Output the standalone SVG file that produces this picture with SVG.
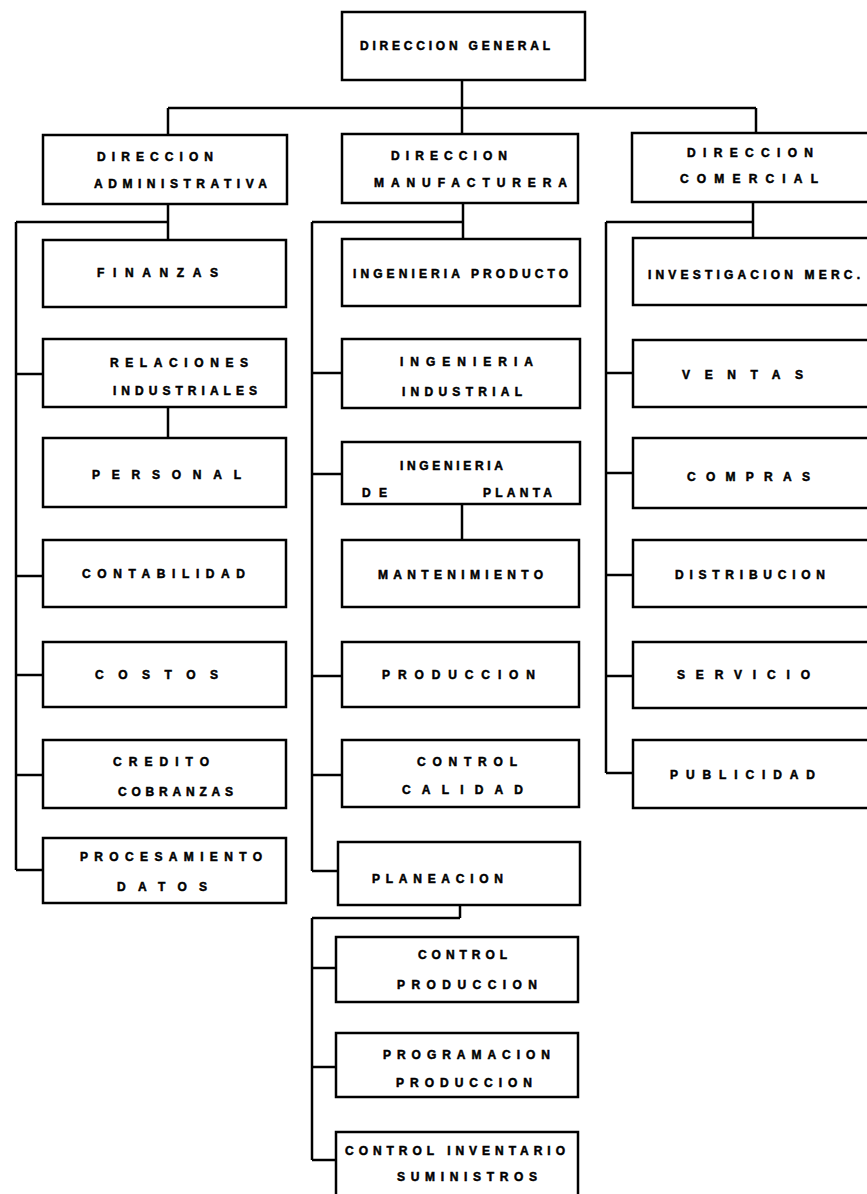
<svg xmlns="http://www.w3.org/2000/svg" width="867" height="1194" viewBox="0 0 867 1194">
<style>
.box{fill:#fff;stroke:#000;stroke-width:2.5}
.ln{fill:none;stroke:#000;stroke-width:2.5}
text{font-family:"Liberation Sans",Arial,sans-serif;font-weight:bold;font-size:12px;fill:#000;stroke:#000;stroke-width:0.5}
</style>
<rect width="867" height="1194" fill="#fff"/>
<g id="connectors">
<path class="ln" d="M462,80 V134 M168,108 H756 M168,108 V135 M756,108 V133"/>
<path class="ln" d="M168,204 V240 M16,222 H168 M16,222 V870 M16,374 H43 M16,576 H43 M16,675 H43 M16,775 H43 M16,870 H43 M168,407 V438"/>
<path class="ln" d="M463,203 V239 M312,222 H463 M312,222 V871 M312,373 H342 M312,474 H342 M312,676 H342 M312,775 H342 M312,871 H338 M462,504 V540"/>
<path class="ln" d="M460,905 V918 M312,918 H460 M312,918 V1160 M312,968 H336 M312,1067 H336 M312,1160 H336"/>
<path class="ln" d="M753,202 V238 M606,222 H753 M606,222 V773 M606,373 H633 M606,473 H633 M606,575 H633 M606,676 H633 M606,773 H633"/>
</g>
<g id="n-general"><rect class="box" x="342" y="12" width="243" height="68"/><text x="360" y="50" textLength="190" lengthAdjust="spacing">DIRECCION GENERAL</text></g>
<g id="n-admin"><rect class="box" x="43" y="135" width="244" height="69"/><text x="97" y="161" textLength="116" lengthAdjust="spacing">DIRECCION</text><text x="94" y="188" textLength="173" lengthAdjust="spacing">ADMINISTRATIVA</text></g>
<g id="n-manuf"><rect class="box" x="342" y="134" width="236" height="69"/><text x="391" y="160" textLength="116" lengthAdjust="spacing">DIRECCION</text><text x="374" y="187" textLength="193" lengthAdjust="spacing">MANUFACTURERA</text></g>
<g id="n-comer"><rect class="box" x="632" y="133" width="240" height="69"/><text x="687" y="157" textLength="126" lengthAdjust="spacing">DIRECCION</text><text x="680" y="183" textLength="138" lengthAdjust="spacing">COMERCIAL</text></g>
<g id="n-finanzas"><rect class="box" x="43" y="240" width="243" height="67"/><text x="97" y="277" textLength="121" lengthAdjust="spacing">FINANZAS</text></g>
<g id="n-relaciones"><rect class="box" x="43" y="339" width="243" height="68"/><text x="110" y="367" textLength="138" lengthAdjust="spacing">RELACIONES</text><text x="113" y="395" textLength="144" lengthAdjust="spacing">INDUSTRIALES</text></g>
<g id="n-personal"><rect class="box" x="43" y="438" width="243" height="69"/><text x="92" y="479" textLength="149" lengthAdjust="spacing">PERSONAL</text></g>
<g id="n-contabilidad"><rect class="box" x="43" y="540" width="243" height="67"/><text x="82" y="578" textLength="163" lengthAdjust="spacing">CONTABILIDAD</text></g>
<g id="n-costos"><rect class="box" x="43" y="642" width="243" height="65"/><text x="95" y="679" textLength="123" lengthAdjust="spacing">COSTOS</text></g>
<g id="n-credito"><rect class="box" x="43" y="740" width="243" height="68"/><text x="113" y="766" textLength="96" lengthAdjust="spacing">CREDITO</text><text x="118" y="796" textLength="115" lengthAdjust="spacing">COBRANZAS</text></g>
<g id="n-procesamiento"><rect class="box" x="43" y="838" width="243" height="65"/><text x="80" y="861" textLength="182" lengthAdjust="spacing">PROCESAMIENTO</text><text x="117" y="891" textLength="90" lengthAdjust="spacing">DATOS</text></g>
<g id="n-ing-producto"><rect class="box" x="342" y="239" width="238" height="67"/><text x="353" y="278" textLength="215" lengthAdjust="spacing">INGENIERIA PRODUCTO</text></g>
<g id="n-ing-industrial"><rect class="box" x="342" y="339" width="238" height="69"/><text x="400" y="366" textLength="133" lengthAdjust="spacing">INGENIERIA</text><text x="402" y="396" textLength="120" lengthAdjust="spacing">INDUSTRIAL</text></g>
<g id="n-ing-planta"><rect class="box" x="342" y="442" width="238" height="62"/><text x="400" y="470" textLength="103" lengthAdjust="spacing">INGENIERIA</text><text x="362" y="497" textLength="25" lengthAdjust="spacing">DE</text><text x="483" y="497" textLength="69" lengthAdjust="spacing">PLANTA</text></g>
<g id="n-mantenimiento"><rect class="box" x="342" y="540" width="237" height="67"/><text x="378" y="579" textLength="165" lengthAdjust="spacing">MANTENIMIENTO</text></g>
<g id="n-produccion"><rect class="box" x="342" y="642" width="237" height="65"/><text x="382" y="679" textLength="153" lengthAdjust="spacing">PRODUCCION</text></g>
<g id="n-calidad"><rect class="box" x="342" y="740" width="237" height="67"/><text x="417" y="766" textLength="100" lengthAdjust="spacing">CONTROL</text><text x="402" y="794" textLength="121" lengthAdjust="spacing">CALIDAD</text></g>
<g id="n-planeacion"><rect class="box" x="338" y="842" width="242" height="63"/><text x="372" y="883" textLength="131" lengthAdjust="spacing">PLANEACION</text></g>
<g id="n-control-prod"><rect class="box" x="336" y="937" width="242" height="65"/><text x="418" y="959" textLength="89" lengthAdjust="spacing">CONTROL</text><text x="397" y="989" textLength="140" lengthAdjust="spacing">PRODUCCION</text></g>
<g id="n-programacion"><rect class="box" x="336" y="1033" width="242" height="64"/><text x="383" y="1059" textLength="167" lengthAdjust="spacing">PROGRAMACION</text><text x="396" y="1087" textLength="136" lengthAdjust="spacing">PRODUCCION</text></g>
<g id="n-inventario"><rect class="box" x="336" y="1132" width="242" height="70"/><text x="345" y="1155" textLength="220" lengthAdjust="spacing">CONTROL INVENTARIO</text><text x="397" y="1181" textLength="140" lengthAdjust="spacing">SUMINISTROS</text></g>
<g id="n-investigacion"><rect class="box" x="633" y="238" width="240" height="67"/><text x="648" y="279" textLength="212" lengthAdjust="spacing">INVESTIGACION MERC.</text></g>
<g id="n-ventas"><rect class="box" x="633" y="340" width="240" height="67"/><text x="682" y="379" textLength="121" lengthAdjust="spacing">VENTAS</text></g>
<g id="n-compras"><rect class="box" x="633" y="438" width="240" height="70"/><text x="687" y="481" textLength="123" lengthAdjust="spacing">COMPRAS</text></g>
<g id="n-distribucion"><rect class="box" x="633" y="540" width="240" height="67"/><text x="675" y="579" textLength="150" lengthAdjust="spacing">DISTRIBUCION</text></g>
<g id="n-servicio"><rect class="box" x="633" y="642" width="240" height="66"/><text x="677" y="679" textLength="133" lengthAdjust="spacing">SERVICIO</text></g>
<g id="n-publicidad"><rect class="box" x="633" y="740" width="240" height="68"/><text x="670" y="779" textLength="145" lengthAdjust="spacing">PUBLICIDAD</text></g>
</svg>
